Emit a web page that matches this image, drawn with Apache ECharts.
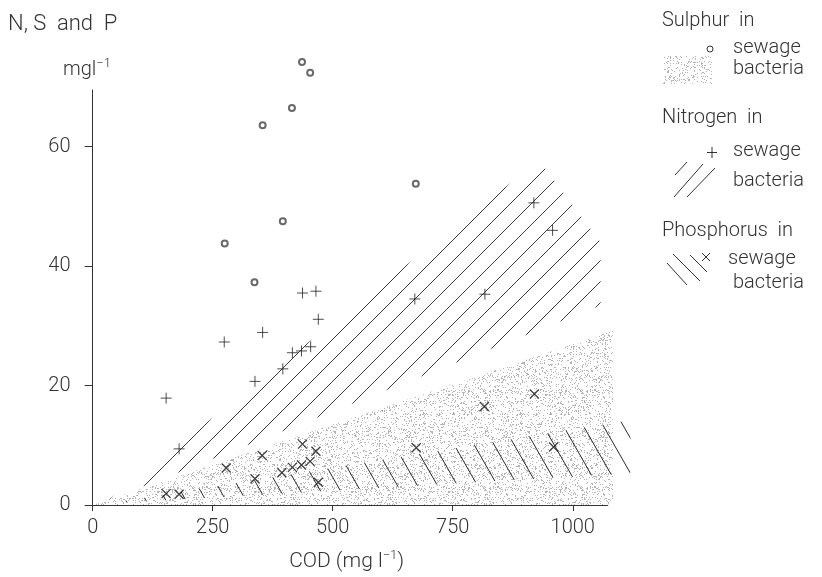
<!DOCTYPE html>
<html>
<head>
<meta charset="utf-8">
<script src="https://cdn.jsdelivr.net/npm/echarts@6/dist/echarts.min.js"></script>
<style>
    html, body {margin: 0; padding: 0; background: #fff}
    #chart {width: 822px; height: 577px}
</style>
</head>
<body>
<div id="chart"></div>
<script>
// sewage samples: [COD mg/l, concentration mg/l]
const sulphurSewage = [[436, 74.2], [453, 72.4], [415, 66.5], [354, 63.6], [396, 47.5], [275, 43.8], [337, 37.3], [673, 53.8]]
const nitrogenSewage = [[153, 17.9], [180, 9.4], [274, 27.3], [354, 28.9], [338, 20.7], [396, 22.8], [416, 25.5], [435, 25.8],
    [454, 26.5], [470, 31.1], [437, 35.5], [465, 35.8], [671, 34.5], [817, 35.3], [919, 50.6], [958, 46.0]]
const phosphorusSewage = [[153, 1.9], [180, 1.8], [278, 6.2], [338, 4.4], [353, 8.3], [394, 5.4], [416, 6.3], [435, 6.7],
    [437, 10.2], [453, 7.3], [465, 9.0], [470, 3.8], [674, 9.6], [816, 16.5], [920, 18.6], [960, 9.7]]

// ranges expected from bacterial composition (polygon corners)
const sulphurBacteria = [[0, 0], [1084, 29.2], [1084, 0]]
const nitrogenBacteria = [[32, 0.8], [930, 57.7], [1058, 44], [1058, 33.4]]
const phosphorusBacteria = [[30, 0.2], [1120, 14.2], [1120, 5.3]]

const xTicks = [0, 250, 500, 750, 1000]
const yTicks = [0, 20, 40, 60]

const font = 'Roboto'
const ink = '#333'

// fill textures
function stipple() {
    const c = document.createElement('canvas')
    c.width = 97
    c.height = 97
    const ctx = c.getContext('2d')
    ctx.fillStyle = '#b4b4b4'
    let s = 12345
    for (let y = 0; y < 97; y++) {
        for (let x = 0; x < 97; x++) {
            s = (s * 1103515245 + 12345) & 0x7fffffff
            if ((s >> 8) % 100 < 15) ctx.fillRect(x, y, 1, 1)
        }
    }
    return {image: c, repeat: 'repeat'}
}

function hatch(w, h, up, color) {
    const c = document.createElement('canvas')
    c.width = w
    c.height = h
    const ctx = c.getContext('2d')
    ctx.strokeStyle = color
    ctx.lineWidth = 1
    ctx.beginPath()
    for (let k = -1; k <= 1; k++) {
        if (up) {
            ctx.moveTo(k * w, h)
            ctx.lineTo(k * w + w, 0)
        } else {
            ctx.moveTo(k * w, 0)
            ctx.lineTo(k * w + w, h)
        }
    }
    ctx.stroke()
    return {image: c, repeat: 'repeat'}
}

const dots = stipple()
const slash = hatch(21, 21, true, '#3a3a3a')
const backslash = hatch(20, 35, false, '#2a2a2a')

function areaSeries(poly, fill) {
    return {
        type: 'custom',
        coordinateSystem: 'cartesian2d',
        clip: false,
        silent: true,
        z: 1,
        data: [[0, 0]],
        renderItem: (params, api) => ({
            type: 'polygon',
            shape: {points: poly.map(p => api.coord(p))},
            style: {fill: fill, stroke: 'none'}
        })
    }
}

const plusPath = 'path://M5 0L5 10M0 5L10 5'
const crossPath = 'path://M0 0L10 10M10 0L0 10'

function txt(x, y, text, size) {
    return {
        type: 'text', x: x, y: y, silent: true,
        style: {text: text, fontFamily: font, fontSize: size || 20, fontWeight: 300, fill: ink, verticalAlign: 'middle'}
    }
}

function seg(x1, y1, x2, y2) {
    return {type: 'line', silent: true, shape: {x1, y1, x2, y2}, style: {stroke: ink, lineWidth: 1}}
}

const chart = echarts.init(document.getElementById('chart'))
chart.setOption({
    animation: false,
    grid: {left: 85.5, top: 90, width: 522.3, height: 417.3},
    xAxis: {
        type: 'value', min: -15, max: 1073,
        name: 'COD (mg l{s|−1})', nameLocation: 'middle', nameGap: 44,
        nameTextStyle: {
            fontFamily: font, fontSize: 21, fontWeight: 300, color: ink,
            rich: {s: {fontFamily: font, fontSize: 13, fontWeight: 300, color: ink, padding: [0, 0, 12, 0]}}
        },
        axisLine: {show: true, lineStyle: {color: ink, width: 1}},
        axisTick: {show: true, customValues: xTicks, length: 6, lineStyle: {color: ink}},
        axisLabel: {
            customValues: xTicks, margin: 13, fontFamily: font, fontSize: 20, fontWeight: 300, color: ink,
            formatter: v => String(v)
        },
        splitLine: {show: false}
    },
    yAxis: {
        type: 'value', min: 0, max: 69.5,
        axisLine: {show: true, onZero: true, lineStyle: {color: ink, width: 1}},
        axisTick: {show: true, customValues: yTicks, length: 8, lineStyle: {color: ink}},
        axisLabel: {customValues: yTicks, margin: 15, fontFamily: font, fontSize: 20, fontWeight: 300, color: ink},
        splitLine: {show: false}
    },
    graphic: [
        txt(8, 24, 'N, S  and  P', 22),
        {
            type: 'text', x: 63, y: 70, silent: true,
            style: {
                text: 'mgl{s|−1}', fontFamily: font, fontSize: 20, fontWeight: 300, fill: ink, verticalAlign: 'middle',
                rich: {s: {fontFamily: font, fontSize: 13, fontWeight: 300, fill: ink, padding: [0, 0, 12, 0]}}
            }
        },
        // legend
        txt(662, 21, 'Sulphur  in'),
        {type: 'circle', silent: true, shape: {cx: 710, cy: 49, r: 3}, style: {fill: '#fff', stroke: ink, lineWidth: 1}},
        txt(733, 48, 'sewage'),
        {type: 'rect', silent: true, shape: {x: 663, y: 56, width: 49, height: 28}, style: {fill: dots}},
        txt(733, 69, 'bacteria'),
        txt(662, 118, 'Nitrogen  in'),
        seg(712, 147, 712, 158), seg(707, 152.5, 717, 152.5),
        txt(733, 151, 'sewage'),
        seg(675, 175, 687, 162), seg(674, 197, 703, 164), seg(687, 197, 715, 168),
        txt(733, 181, 'bacteria'),
        txt(662, 231, 'Phosphorus  in'),
        seg(702, 253, 710, 261), seg(710, 253, 702, 261),
        txt(728, 259, 'sewage'),
        seg(667, 263, 687, 285), seg(673, 254, 700, 281), seg(690, 255, 707, 272),
        txt(733, 283, 'bacteria')
    ],
    series: [
        areaSeries(sulphurBacteria, dots),
        areaSeries(nitrogenBacteria, slash),
        areaSeries(phosphorusBacteria, backslash),
        {
            type: 'scatter', name: 'Sulphur in sewage', data: sulphurSewage, clip: false, silent: true, z: 3,
            symbol: 'emptyCircle', symbolSize: 6, itemStyle: {color: '#444', borderWidth: 1}
        },
        {
            type: 'scatter', name: 'Nitrogen in sewage', data: nitrogenSewage, clip: false, silent: true, z: 3,
            symbol: plusPath, symbolSize: 11, itemStyle: {color: 'transparent', borderColor: '#222', borderWidth: 1}
        },
        {
            type: 'scatter', name: 'Phosphorus in sewage', data: phosphorusSewage, clip: false, silent: true, z: 3,
            symbol: crossPath, symbolSize: 9, itemStyle: {color: 'transparent', borderColor: '#111', borderWidth: 1.3}
        }
    ]
})
</script>
</body>
</html>
